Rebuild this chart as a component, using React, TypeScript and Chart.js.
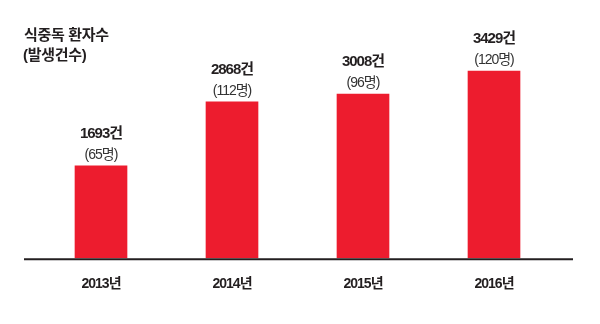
import React, { useEffect, useRef } from "react";
import { Chart, registerables } from "chart.js";

Chart.register(...registerables);

const categories = ["2013년", "2014년", "2015년", "2016년"];
const cases = [1693, 2868, 3008, 3429];
const patients = [65, 112, 96, 120];
const titleLines = ["식중독 환자수", "(발생건수)"];

const FONT = "'Liberation Sans', 'Noto Sans CJK KR', sans-serif";
const RED = "#ED1C2E";
const DARK = "#231F20";

export default function App() {
  const ref = useRef<HTMLCanvasElement>(null);
  useEffect(() => {
    if (!ref.current) return;
    const labelsPlugin = {
      id: "labels",
      beforeDraw(chart: any) {
        chart.ctx.letterSpacing = "-1px";
      },
      afterDatasetsDraw(chart: any) {
        const ctx = chart.ctx;
        const meta = chart.getDatasetMeta(0);
        ctx.save();
        ctx.letterSpacing = "-1px";
        ctx.textAlign = "center";
        ctx.textBaseline = "middle";
        meta.data.forEach((bar: any, i: number) => {
          ctx.fillStyle = DARK;
          ctx.font = `bold 15px ${FONT}`;
          ctx.fillText(`${cases[i]}건`, bar.x, bar.y - 32);
          ctx.fillStyle = "#333";
          ctx.font = `14px ${FONT}`;
          ctx.fillText(`(${patients[i]}명)`, bar.x, bar.y - 11);
        });
        // axis line
        const y = chart.chartArea.bottom + 1;
        ctx.strokeStyle = DARK;
        ctx.lineWidth = 2;
        ctx.beginPath();
        ctx.moveTo(24, y);
        ctx.lineTo(573, y);
        ctx.stroke();
        // title
        ctx.letterSpacing = "-0.3px";
        ctx.textAlign = "left";
        ctx.fillStyle = DARK;
        ctx.font = `bold 15px ${FONT}`;
        ctx.fillText(titleLines[0], 24, 36);
        ctx.fillText(titleLines[1], 23, 56);
        ctx.restore();
      },
    };
    const chart = new Chart(ref.current, {
      type: "bar",
      data: {
        labels: categories,
        datasets: [
          {
            data: cases,
            backgroundColor: RED,
            barThickness: 52,
            borderWidth: 0,
          },
        ],
      },
      options: {
        animation: false,
        responsive: false,
        maintainAspectRatio: false,
        layout: { padding: { left: 35.5, right: 40.5, top: 40, bottom: 13 } },
        plugins: { legend: { display: false }, tooltip: { enabled: false } },
        scales: {
          x: {
            grid: { display: false, drawTicks: false },
            border: { display: false },
            ticks: {
              color: DARK,
              padding: 18,
              font: { family: FONT, size: 14, weight: "bold" },
            },
          },
          y: {
            display: false,
            min: 0,
            max: 4000,
          },
        },
      },
      plugins: [labelsPlugin],
    });
    return () => chart.destroy();
  }, []);
  return (
    <div style={{ position: "fixed", left: 0, top: 0, width: 600, height: 324, background: "#fff" }}>
      <canvas ref={ref} width={600} height={324} style={{ width: 600, height: 324 }} />
    </div>
  );
}
